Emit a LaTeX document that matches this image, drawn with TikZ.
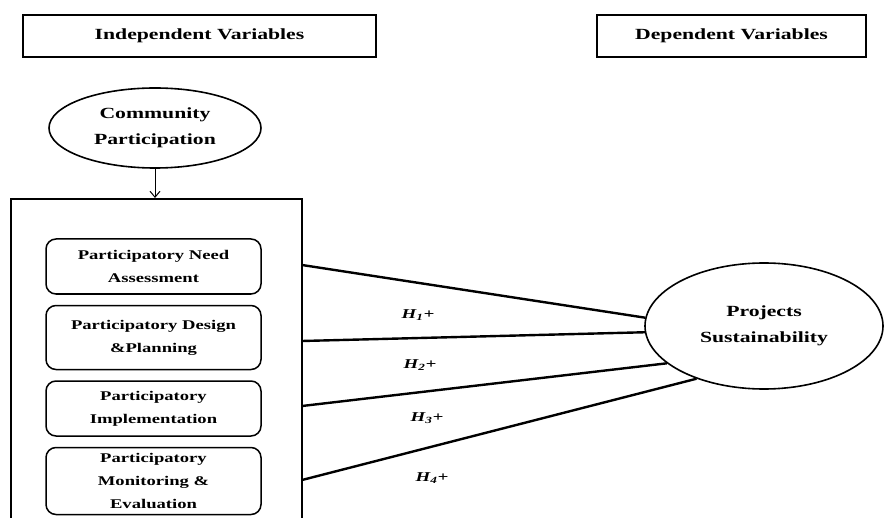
\documentclass[tikz,border=0pt]{standalone}
\usepackage{fontspec}
\newfontfamily\diagfont[FakeStretch=1.4]{Liberation Serif}
\usepackage{tikz}
\usetikzlibrary{shapes,arrows,arrows.meta}
\usetikzlibrary{positioning}
\tikzstyle{arrow} = [line width=1pt,-{Straight Barb[length=6pt,width=10pt]}]
\tikzstyle{link} = [line width=2.4pt]
\tikzstyle{heading} = [
    rectangle, draw=black, line width=1.6pt, minimum height=42pt,
    font=\diagfont\bfseries\fontsize{15.5}{18}\selectfont]
\tikzstyle{construct} = [
    ellipse, draw=black, line width=1.6pt, inner sep=0pt, align=center,
    font=\diagfont\bfseries\fontsize{15.5}{26}\selectfont]
\tikzstyle{dimension} = [
    rectangle, rounded corners=10pt, draw=black, line width=1.5pt,
    minimum width=215pt, align=center,
    font=\diagfont\bfseries\fontsize{13.3}{23}\selectfont]
\tikzstyle{hyp} = [font=\diagfont\bfseries\itshape\fontsize{13.5}{15}\selectfont]

\begin{document}
\begin{tikzpicture}[x=1pt, y=-1pt, node distance=10pt]
\useasboundingbox (0,0) rectangle (885,518);

\node (indep) [heading, minimum width=353pt] at (199.5,36) {Independent Variables};
\node (dep) [heading, minimum width=269pt] at (731.5,36) {Dependent Variables};

\node (community) [construct, minimum width=212pt, minimum height=80pt] at (155,128) {
    Community \\
    Participation
};

\draw[line width=1.5pt] (11,519) -- (11,199) -- (302,199) -- (302,519);
\coordinate (boxtop) at (155,198);
\draw[arrow] (community.south) -- (boxtop);

\node (need) [dimension, minimum height=55pt] at (153.5,266.5) {
    Participatory Need \\
    Assessment
};
\node (design) [dimension, minimum height=64pt, below=of need] {
    Participatory Design \\
    \&Planning
};
\node (impl) [dimension, minimum height=55pt, below=of design] {
    Participatory \\
    Implementation
};
\node (monit) [dimension, minimum height=67pt, below=of impl] {
    Participatory \\
    Monitoring \& \\
    Evaluation
};

\node (projects) [construct, minimum width=238pt, minimum height=126pt] at (764,326) {
    Projects \\
    Sustainability
};

\coordinate (out1) at (302,265);
\coordinate (out2) at (302,341);
\coordinate (out3) at (302,406);
\coordinate (out4) at (302,480);

\draw[link] (out1) -- (projects.176);
\draw[link] (out2) -- (projects.183);
\draw[link] (out3) -- (projects.201);
\draw[link] (out4) -- (projects.218);

\node (h1) [hyp] at (418,315) {H\textsubscript{1}+};
\node (h2) [hyp] at (420,365) {H\textsubscript{2}+};
\node (h3) [hyp] at (427,418) {H\textsubscript{3}+};
\node (h4) [hyp] at (432,478) {H\textsubscript{4}+};
\end{tikzpicture}
\end{document}
